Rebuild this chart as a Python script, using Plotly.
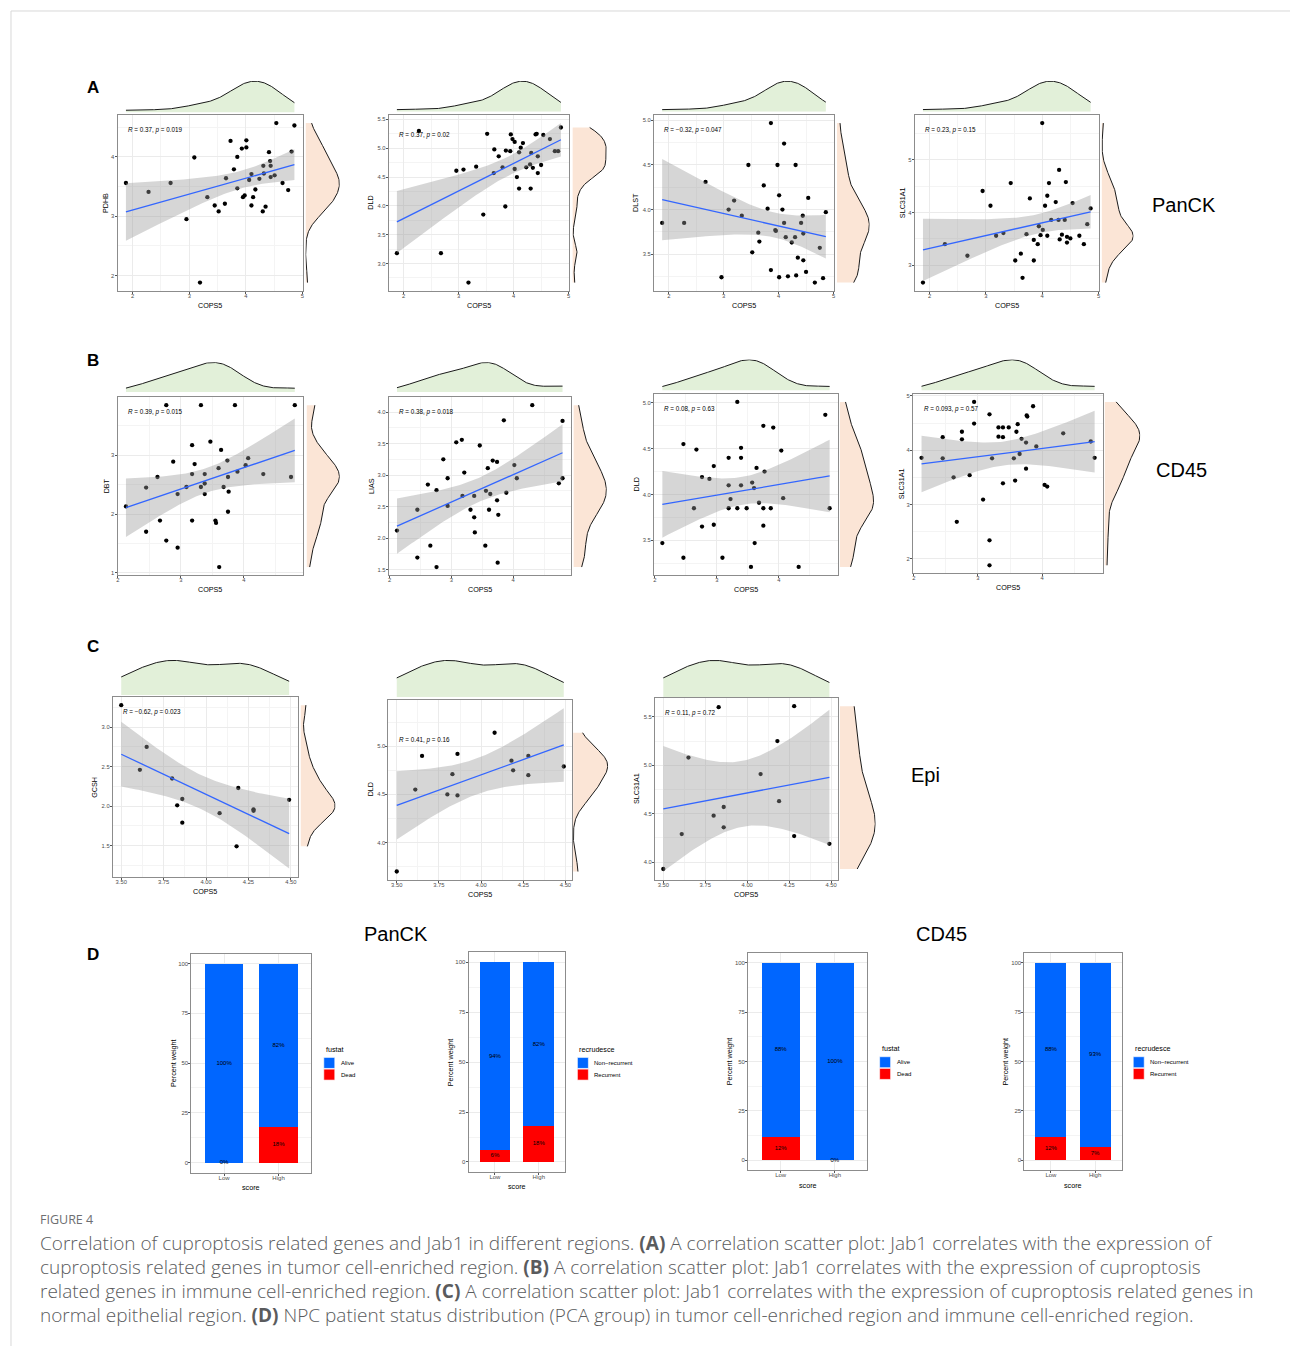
import numpy as np
import plotly.graph_objects as go

W, H = 1290, 1346
FONT = "Liberation Sans"

# ================= DATA =================
# ---- A: PanCK region (COPS5 vs gene) ----
a1_gene = "PDHB"
a1_x = [1.88, 2.28, 2.67, 2.95, 3.09, 3.32, 3.45, 3.52, 3.63, 3.65, 3.73, 3.79, 3.85, 3.85, 3.93, 3.95, 3.98, 4.01, 4.01, 4.06,
        4.10, 4.10, 4.13, 4.17, 4.24, 4.30, 4.31, 4.32, 4.35, 4.41, 4.43, 4.44, 4.44, 4.51, 4.54, 4.65, 4.75, 4.81, 4.86, 3.19]
a1_y = [3.56, 3.41, 3.56, 2.95, 3.99, 3.32, 3.18, 3.08, 3.21, 3.64, 4.27, 3.79, 4.00, 3.47, 4.14, 3.32, 3.35, 4.28, 4.16, 3.61,
        3.71, 3.18, 3.32, 3.45, 3.63, 3.08, 3.85, 3.72, 3.16, 4.08, 3.93, 3.85, 3.66, 3.69, 4.57, 3.56, 3.44, 4.09, 4.53, 1.88]
a1_r, a1_p = "0.37", "0.019"
a1_yticks = [2, 3, 4]

a2_gene = "DLD"
a2_x = [1.88, 2.28, 2.68, 2.96, 3.09, 3.32, 3.18, 3.45, 3.52, 3.64, 3.65, 3.73, 3.80, 3.85, 3.86, 3.94, 3.95, 3.98, 4.02, 4.02,
        4.06, 4.10, 4.10, 4.13, 4.17, 4.23, 4.30, 4.31, 4.32, 4.35, 4.40, 4.42, 4.44, 4.44, 4.50, 4.54, 4.66, 4.75, 4.81, 4.86]
a2_y = [3.18, 5.30, 3.18, 4.61, 4.63, 4.68, 2.67, 3.85, 5.25, 4.57, 4.98, 4.86, 4.67, 3.99, 4.96, 4.95, 5.24, 5.16, 5.11, 4.64,
        4.50, 4.93, 4.30, 5.01, 5.09, 4.67, 4.72, 4.30, 4.92, 4.66, 5.24, 5.25, 4.86, 4.57, 4.71, 5.23, 5.16, 4.95, 4.95, 5.36]
a2_r, a2_p = "0.37", "0.02"
a2_yticks = [3.0, 3.5, 4.0, 4.5, 5.0, 5.5]

a3_gene = "DLST"
a3_x = [1.88, 2.28, 2.67, 2.96, 3.09, 3.19, 3.33, 3.45, 3.52, 3.63, 3.65, 3.73, 3.80, 3.86, 3.86, 3.94, 3.95, 3.98, 4.01, 4.01,
        4.07, 4.10, 4.10, 4.13, 4.17, 4.24, 4.30, 4.31, 4.32, 4.35, 4.41, 4.44, 4.45, 4.45, 4.50, 4.54, 4.66, 4.75, 4.81, 4.86]
a3_y = [3.85, 3.85, 4.31, 3.24, 4.00, 4.10, 3.93, 4.50, 3.52, 3.74, 3.64, 4.27, 4.01, 4.97, 3.32, 3.77, 3.76, 4.50, 4.16, 3.24,
        4.00, 4.74, 3.85, 3.69, 3.25, 3.63, 3.69, 4.50, 3.26, 3.46, 3.85, 3.93, 3.73, 3.43, 3.30, 4.13, 3.18, 3.57, 3.23, 3.97]
a3_r, a3_p = "\u22120.32", "0.047"
a3_yticks = [3.5, 4.0, 4.5, 5.0]

a4_gene = "SLC31A1"
a4_x = [1.88, 2.27, 2.67, 2.94, 3.08, 3.18, 3.31, 3.44, 3.52, 3.62, 3.65, 3.72, 3.78, 3.85, 3.85, 3.92, 3.94, 3.97, 4.00, 4.01,
        4.05, 4.09, 4.09, 4.12, 4.16, 4.24, 4.29, 4.30, 4.31, 4.35, 4.40, 4.42, 4.44, 4.44, 4.50, 4.54, 4.66, 4.74, 4.80, 4.86]
a4_y = [2.67, 3.40, 3.18, 4.41, 4.13, 3.56, 3.61, 4.56, 3.09, 3.22, 2.76, 3.59, 4.27, 3.09, 3.48, 3.40, 3.74, 3.57, 5.70, 3.67,
        4.13, 4.32, 3.56, 4.56, 3.86, 4.20, 3.86, 4.81, 3.49, 3.58, 3.86, 4.58, 3.54, 3.43, 3.51, 4.18, 3.56, 3.40, 3.78, 4.08]
a4_r, a4_p = "0.23", "0.15"
a4_yticks = [3, 4, 5]
a_xticks = [2, 3, 4, 5]

# ---- B: CD45 region ----
b1_gene = "DBT"
b1_x = [2.13, 2.45, 2.45, 2.63, 2.67, 2.77, 2.77, 2.88, 2.95, 2.95, 3.09, 3.18, 3.18, 3.18, 3.22, 3.32, 3.32, 3.38, 3.38,
        3.38, 3.47, 3.55, 3.56, 3.60, 3.61, 3.64, 3.68, 3.74, 3.75, 3.75, 3.76, 3.86, 3.90, 4.03, 4.07, 4.31, 4.75, 4.81]
b1_y = [2.13, 2.45, 1.70, 2.63, 1.89, 1.55, 3.85, 2.89, 1.43, 2.34, 2.46, 3.17, 2.68, 1.89, 2.85, 3.85, 2.46, 2.68, 2.52,
        2.34, 3.23, 1.89, 1.85, 2.78, 1.10, 3.09, 2.46, 2.91, 2.63, 2.04, 2.38, 3.85, 2.72, 2.83, 2.95, 2.68, 2.63, 3.85]
b1_r, b1_p = "0.39", "0.015"
b1_yticks = [1, 2, 3]

b2_gene = "LIAS"
b2_x = [2.12, 2.45, 2.45, 2.62, 2.66, 2.76, 2.76, 2.87, 2.94, 2.94, 3.08, 3.17, 3.18, 3.21, 3.31, 3.37, 3.37, 3.38, 3.46,
        3.55, 3.56, 3.59, 3.61, 3.63, 3.67, 3.74, 3.74, 3.75, 3.76, 3.85, 3.89, 4.02, 4.06, 4.31, 4.74, 4.80, 4.80]
b2_y = [2.12, 2.45, 1.69, 2.85, 1.88, 2.76, 1.54, 3.25, 2.95, 2.51, 3.52, 3.56, 2.67, 3.04, 2.45, 2.67, 2.33, 2.09, 3.47,
        1.88, 2.75, 3.11, 2.45, 2.70, 3.23, 3.21, 2.60, 1.61, 2.37, 3.87, 2.72, 3.16, 2.95, 4.11, 2.87, 3.86, 2.95]
b2_r, b2_p = "0.38", "0.018"
b2_yticks = [1.5, 2.0, 2.5, 3.0, 3.5, 4.0]

b3_gene = "DLD"
b3_x = [2.12, 2.46, 2.46, 2.63, 2.67, 2.76, 2.76, 2.88, 2.95, 2.95, 3.09, 3.19, 3.19, 3.19, 3.22, 3.33, 3.33, 3.39, 3.39,
        3.39, 3.48, 3.55, 3.57, 3.60, 3.61, 3.64, 3.68, 3.75, 3.75, 3.75, 3.77, 3.87, 3.91, 4.04, 4.07, 4.32, 4.75, 4.82]
b3_y = [3.47, 4.55, 3.31, 3.85, 4.49, 4.19, 3.65, 4.17, 4.31, 3.67, 3.31, 4.40, 4.10, 3.85, 3.95, 5.01, 3.85, 4.51, 4.40,
        4.10, 3.85, 3.21, 4.13, 4.07, 3.47, 4.29, 3.91, 4.75, 3.85, 3.66, 4.25, 3.85, 4.73, 4.48, 3.96, 3.21, 4.87, 3.85]
b3_r, b3_p = "0.08", "0.63"
b3_yticks = [3.5, 4.0, 4.5, 5.0]

b4_gene = "SLC31A1"
b4_x = [2.12, 2.45, 2.45, 2.62, 2.67, 2.75, 2.75, 2.87, 2.94, 2.94, 3.08, 3.18, 3.18, 3.18, 3.22, 3.32, 3.32, 3.39, 3.39,
        3.39, 3.48, 3.56, 3.58, 3.60, 3.62, 3.65, 3.68, 3.75, 3.75, 3.76, 3.77, 3.86, 3.91, 4.04, 4.08, 4.33, 4.76, 4.82]
b4_y = [3.86, 4.24, 3.85, 3.50, 2.68, 4.34, 4.20, 3.54, 4.89, 4.49, 3.09, 4.66, 2.34, 1.88, 3.85, 4.42, 4.25, 4.42, 4.24,
        3.39, 4.42, 3.85, 3.44, 4.34, 4.48, 3.93, 4.21, 3.66, 4.14, 4.64, 4.62, 4.81, 4.07, 3.36, 3.33, 4.31, 4.16, 3.86]
b4_r, b4_p = "0.093", "0.57"
b4_yticks = [2, 3, 4, 5]
b_xticks = [2, 3, 4]

# ---- C: Epi region ----
c_x = [3.50, 3.65, 3.61, 3.80, 3.83, 3.86, 3.86, 4.08, 4.19, 4.18, 4.28, 4.28, 4.49]
c1_gene = "GCSH"
c1_y = [3.28, 2.75, 2.46, 2.35, 2.01, 2.09, 1.79, 1.91, 2.23, 1.49, 1.94, 1.96, 2.08]
c1_r, c1_p = "\u22120.62", "0.023"
c1_yticks = [1.5, 2.0, 2.5, 3.0]

c2_gene = "DLD"
c2_x = [3.50, 3.61, 3.65, 3.80, 3.83, 3.86, 3.86, 4.08, 4.18, 4.19, 4.28, 4.28, 4.49]
c2_y = [3.70, 4.55, 4.90, 4.50, 4.71, 4.92, 4.49, 5.14, 4.85, 4.75, 4.90, 4.70, 4.79]
c2_r, c2_p = "0.41", "0.16"
c2_yticks = [4.0, 4.5, 5.0]

c3_gene = "SLC31A1"
c3_x = [3.50, 3.61, 3.65, 3.80, 3.83, 3.86, 3.86, 4.08, 4.18, 4.19, 4.28, 4.28, 4.49]
c3_y = [3.93, 4.29, 5.08, 4.48, 5.60, 4.57, 4.36, 4.91, 5.25, 4.63, 5.61, 4.27, 4.19]
c3_r, c3_p = "0.11", "0.72"
c3_yticks = [4.0, 4.5, 5.0, 5.5]
c_xticks = [3.50, 3.75, 4.00, 4.25, 4.50]

x_gene = "COPS5"

# ---- D: patient status distribution ----
d_categories = ["Low", "High"]
d1_alive = [100, 82]
d1_dead = [0, 18]
d2_nonrec = [94, 82]
d2_rec = [6, 18]
d3_alive = [88, 100]
d3_dead = [12, 0]
d4_nonrec = [88, 93]
d4_rec = [12, 7]
fustat_labels = ["Alive", "Dead"]
recur_labels = ["Non\u2212recurrent", "Recurrent"]
d_yticks = [0, 25, 50, 75, 100]

row_labels = ["PanCK", "CD45", "Epi"]
d_headers = ["PanCK", "CD45"]

# ================= HELPERS =================
def tcrit(df):
    z = 1.959964
    return (z + (z**3 + z) / (4 * df) + (5 * z**5 + 16 * z**3 + 3 * z) / (96 * df**2)
            + (3 * z**7 + 19 * z**5 + 17 * z**3 - 15 * z) / (384 * df**3))


def lm_fit(x, y):
    n = len(x)
    b, a = np.polyfit(x, y, 1)
    res = y - (a + b * x)
    s = np.sqrt((res**2).sum() / (n - 2))
    sxx = ((x - x.mean())**2).sum()
    g = np.linspace(x.min(), x.max(), 80)
    yh = a + b * g
    se = s * np.sqrt(1.0 / n + (g - x.mean())**2 / sxx)
    t = tcrit(n - 2)
    return g, yh, yh - t * se, yh + t * se


def kde(v):
    n = len(v)
    sd = v.std(ddof=1)
    q75, q25 = np.percentile(v, [75, 25])
    bw = 0.9 * min(sd, (q75 - q25) / 1.34) * n ** (-0.2)
    g = np.linspace(v.min(), v.max(), 256)
    d = np.exp(-0.5 * ((g[:, None] - v[None, :]) / bw) ** 2).sum(1) / (n * bw * np.sqrt(2 * np.pi))
    return g, d


def expand(lo, hi, f=0.05):
    s = hi - lo
    return [lo - f * s, hi + f * s]


def PX(x):
    return x / W


def PY(y):
    return 1 - y / H


fig = go.Figure()
layout_axes = {}
annotations = []
shapes = []
counter = [0]


def new_axes(xdom, ydom, xax, yax):
    counter[0] += 1
    n = counter[0]
    sx = "" if n == 1 else str(n)
    layout_axes["xaxis" + sx] = dict(domain=xdom, anchor="y" + sx, **xax)
    layout_axes["yaxis" + sx] = dict(domain=ydom, anchor="x" + sx, **yax)
    return "x" + sx, "y" + sx


def minor_vals(ticks):
    step = ticks[1] - ticks[0]
    return [t - step / 2 for t in ticks] + [ticks[-1] + step / 2]


def axis_style(rng, ticks, dec, minor=True, cat=False, standoff=-3):
    d = dict(range=rng, tickmode="array", tickvals=ticks,
             showgrid=True, gridcolor="#EBEBEB", gridwidth=1,
             showline=True, mirror=True, linecolor="#8C8C8C", linewidth=1,
             ticks="outside", ticklen=2, tickcolor="#555555", tickwidth=0.6,
             ticklabelstandoff=standoff,
             tickfont=dict(family=FONT, size=5.8, color="#4D4D4D"), zeroline=False)
    if not cat:
        d["ticktext"] = [f"{t:.{dec}f}" for t in ticks]
    if minor:
        d["minor"] = dict(tickmode="array", tickvals=minor_vals(ticks), showgrid=True,
                          gridcolor="#F4F4F4", gridwidth=0.6)
    return d


def text(t, x, y, size, color="black", xanchor="center", yanchor="middle", angle=0, family=FONT, weight=None):
    f = dict(family=family, size=size, color=color)
    if weight is not None:
        f["weight"] = weight
    annotations.append(dict(text=t, x=PX(x), y=PY(y), xref="paper", yref="paper",
                            xanchor=xanchor, yanchor=yanchor, showarrow=False, textangle=angle, font=f))


# ================= SCATTER PANELS =================
# layout boxes in pixels: panel (x0,y0,x1,y1), top density (top, base), right density (base, peak)
A_boxes = [((116.7, 114.3, 302.3, 290), (80, 111.7), (305, 339.3)),
           ((388.3, 114.3, 569, 290), (80, 111), (572.3, 606.7)),
           ((654, 114.3, 834.3, 290), (80, 111), (837.3, 870)),
           ((915, 114.3, 1099.7, 290), (80, 111), (1102.3, 1134.3))]
B_boxes = [((116.7, 396.7, 302.7, 575), (361.7, 391.7), (306, 339.3)),
           ((388.3, 396.7, 570.7, 575), (361.7, 391.7), (573.3, 606.7)),
           ((654, 393.3, 838.3, 575), (359, 390), (840, 874.3)),
           ((913.3, 393.3, 1104, 573.3), (359, 390), (1105.3, 1141))]
C_boxes = [((112, 697, 297, 877), (660, 695), (300, 335)),
           ((388, 700, 572, 880), (660, 697), (573, 608)),
           ((655, 698, 838, 880), (660, 697), (840, 876))]

panels = [
    (a1_x, a1_y, a1_gene, a1_r, a1_p, a_xticks, 0, a1_yticks, 0, A_boxes[0]),
    (a2_x, a2_y, a2_gene, a2_r, a2_p, a_xticks, 0, a2_yticks, 1, A_boxes[1]),
    (a3_x, a3_y, a3_gene, a3_r, a3_p, a_xticks, 0, a3_yticks, 1, A_boxes[2]),
    (a4_x, a4_y, a4_gene, a4_r, a4_p, a_xticks, 0, a4_yticks, 0, A_boxes[3]),
    (b1_x, b1_y, b1_gene, b1_r, b1_p, b_xticks, 0, b1_yticks, 0, B_boxes[0]),
    (b2_x, b2_y, b2_gene, b2_r, b2_p, b_xticks, 0, b2_yticks, 1, B_boxes[1]),
    (b3_x, b3_y, b3_gene, b3_r, b3_p, b_xticks, 0, b3_yticks, 1, B_boxes[2]),
    (b4_x, b4_y, b4_gene, b4_r, b4_p, b_xticks, 0, b4_yticks, 0, B_boxes[3]),
    (c_x, c1_y, c1_gene, c1_r, c1_p, c_xticks, 2, c1_yticks, 1, C_boxes[0]),
    (c2_x, c2_y, c2_gene, c2_r, c2_p, c_xticks, 2, c2_yticks, 1, C_boxes[1]),
    (c3_x, c3_y, c3_gene, c3_r, c3_p, c_xticks, 2, c3_yticks, 1, C_boxes[2]),
]

for xs, ys, gene, r, p, xt, xdec, yt, ydec, box in panels:
    x = np.array(xs, float)
    y = np.array(ys, float)
    (x0, y0, x1, y1), (tt, tb), (rb, rp) = box
    g, yh, lo, hi = lm_fit(x, y)
    xr = expand(x.min(), x.max())
    yr = expand(min(y.min(), lo.min()), max(y.max(), hi.max()))
    xdom = [PX(x0), PX(x1)]
    ydom = [PY(y1), PY(y0)]
    xm, ym = new_axes(xdom, ydom, axis_style(xr, xt, xdec, standoff=-3), axis_style(yr, yt, ydec, standoff=-1))
    fig.add_trace(go.Scatter(x=x, y=y, mode="markers", marker=dict(size=4.3, color="black", line=dict(width=0)),
                             xaxis=xm, yaxis=ym, hoverinfo="skip"))
    fig.add_trace(go.Scatter(x=np.r_[g, g[::-1]], y=np.r_[hi, lo[::-1]], mode="lines", fill="toself",
                             fillcolor="rgba(153,153,153,0.4)", line=dict(width=0), xaxis=xm, yaxis=ym,
                             hoverinfo="skip"))
    fig.add_trace(go.Scatter(x=g, y=yh, mode="lines", line=dict(color="#3366FF", width=1.3),
                             xaxis=xm, yaxis=ym, hoverinfo="skip"))
    # top marginal density
    gx, dx = kde(x)
    xa, ya = new_axes(xdom, [PY(tb), PY(tt)], dict(range=xr, visible=False),
                      dict(range=[0, dx.max() * 1.01], visible=False))
    fig.add_trace(go.Scatter(x=gx, y=dx, mode="lines", fill="tozeroy", fillcolor="#E2F0D9",
                             line=dict(color="#1A1A1A", width=1), xaxis=xa, yaxis=ya, hoverinfo="skip"))
    # right marginal density
    gy, dy = kde(y)
    xb, yb = new_axes([PX(rb), PX(rp)], ydom, dict(range=[0, dy.max() * 1.01], visible=False),
                      dict(range=yr, visible=False))
    fig.add_trace(go.Scatter(x=dy, y=gy, mode="lines", fill="tozerox", fillcolor="#FBE5D6",
                             line=dict(color="#1A1A1A", width=1), xaxis=xb, yaxis=yb, hoverinfo="skip"))
    # correlation label
    annotations.append(dict(text=f"<i>R</i> = {r}, <i>p</i> = {p}", x=x.min(), y=y.max(), xref=xm, yref=ym,
                            xanchor="left", yanchor="top", showarrow=False, yshift=-1,
                            font=dict(family=FONT, size=6.3, color="black")))
    # axis titles
    maxlen = max(len(f"{t:.{ydec}f}") for t in yt)
    text(x_gene, (x0 + x1) / 2, y1 + 14.5, 7.2)
    text(gene, x0 - (8 + 3.3 * maxlen), (y0 + y1) / 2, 7.2, angle=-90)

# ================= BAR PANELS =================
D_boxes = [(190.7, 954, 310.7, 1173.3), (468.3, 952.7, 565, 1172.7),
           (748.3, 953.3, 867.7, 1171), (1025, 953.3, 1122.3, 1171)]
D_legend_pos = [(323.3, 1050), (577.3, 1050), (880, 1049.3), (1134, 1049.3)]
bars = [(d1_alive, d1_dead, "fustat", fustat_labels),
        (d2_nonrec, d2_rec, "recrudesce", recur_labels),
        (d3_alive, d3_dead, "fustat", fustat_labels),
        (d4_nonrec, d4_rec, "recrudesce", recur_labels)]
BLUE, RED = "#0066FF", "#FF0000"

for (top_v, bot_v, ltitle, llabels), (x0, y0, x1, y1), (lx, ly) in zip(bars, D_boxes, D_legend_pos):
    xax = axis_style([-0.6, 1.6], d_categories, 0, minor=False, cat=True, standoff=-3)
    xax.update(type="category", categoryorder="array", categoryarray=d_categories,
               tickvals=d_categories, tickfont=dict(family=FONT, size=6, color="#4D4D4D"))
    yax = axis_style([-5, 105], d_yticks, 0, standoff=-1)
    yax["tickfont"] = dict(family=FONT, size=6, color="#4D4D4D")
    xm, ym = new_axes([PX(x0), PX(x1)], [PY(y1), PY(y0)], xax, yax)
    fig.add_trace(go.Bar(x=d_categories, y=bot_v, marker=dict(color=RED, line=dict(width=0)), width=0.7,
                         xaxis=xm, yaxis=ym, hoverinfo="skip"))
    fig.add_trace(go.Bar(x=d_categories, y=top_v, marker=dict(color=BLUE, line=dict(width=0)), width=0.7,
                         xaxis=xm, yaxis=ym, hoverinfo="skip"))
    bot = np.array(bot_v, float)
    top = np.array(top_v, float)
    fig.add_trace(go.Scatter(x=d_categories + d_categories, y=np.r_[bot / 2, bot + top / 2],
                             text=[f"{v:.0f}%" for v in list(bot) + list(top)], mode="text",
                             textfont=dict(family=FONT, size=6, color="black"), xaxis=xm, yaxis=ym,
                             hoverinfo="skip", cliponaxis=False))
    text("score", (x0 + x1) / 2, y1 + 15, 7.2)
    text("Percent weight", x0 - 18.5, (y0 + y1) / 2, 7.2, angle=-90)
    # legend
    text(ltitle, lx, ly, 7.2, xanchor="left")
    for i, (lab, col) in enumerate(zip(llabels, [BLUE, RED])):
        ky = ly + 8 + i * 11.7
        shapes.append(dict(type="rect", xref="paper", yref="paper", x0=PX(lx), x1=PX(lx + 11),
                           y0=PY(ky + 11), y1=PY(ky), fillcolor=col, line=dict(width=0.6, color="white")))
        text(lab, lx + 15, ky + 5.5, 6, xanchor="left")

# ================= TEXT LABELS =================
for lab, yy in zip(["A", "B", "C", "D"], [87, 360, 646, 955]):
    text(f"<b>{lab}</b>", 92, yy, 17)
text(row_labels[0], 1185, 204, 20)
text(row_labels[1], 1182, 470, 20)
text(row_labels[2], 926, 775, 20)
text(d_headers[0], 396, 934, 20)
text(d_headers[1], 942, 934, 20)

text("FIGURE 4", 37, 1220, 12.5, color="#6D6E71", xanchor="left", family="Open Sans")
cap_lines = [
    "Correlation of cuproptosis related genes and Jab1 in different regions. <b>(A)</b> A correlation scatter plot: Jab1 correlates with the expression of",
    "cuproptosis related genes in tumor cell-enriched region. <b>(B)</b> A correlation scatter plot: Jab1 correlates with the expression of cuproptosis",
    "related genes in immune cell-enriched region. <b>(C)</b> A correlation scatter plot: Jab1 correlates with the expression of cuproptosis related genes in",
    "normal epithelial region. <b>(D)</b> NPC patient status distribution (PCA group) in tumor cell-enriched region and immune cell-enriched region.",
]
for i, ln in enumerate(cap_lines):
    text(ln, 37, 1244 + 24 * i, 19, color="#5A5B5D", xanchor="left", family="Open Sans", weight=300)

# outer frame
shapes.append(dict(type="rect", xref="paper", yref="paper", x0=PX(10), y0=PY(10), x1=1.05, y1=-0.05,
                   line=dict(color="#D9D9D9", width=1), fillcolor="rgba(0,0,0,0)", layer="below"))

fig.update_layout(width=W, height=H, margin=dict(l=0, r=0, t=0, b=0), paper_bgcolor="white",
                  plot_bgcolor="white", showlegend=False, barmode="stack", hovermode=False,
                  annotations=annotations, shapes=shapes, **layout_axes)

fig.write_html("out.html", config={"displayModeBar": False},
               post_script="document.body.style.margin='0px';document.body.style.overflow='hidden';")
